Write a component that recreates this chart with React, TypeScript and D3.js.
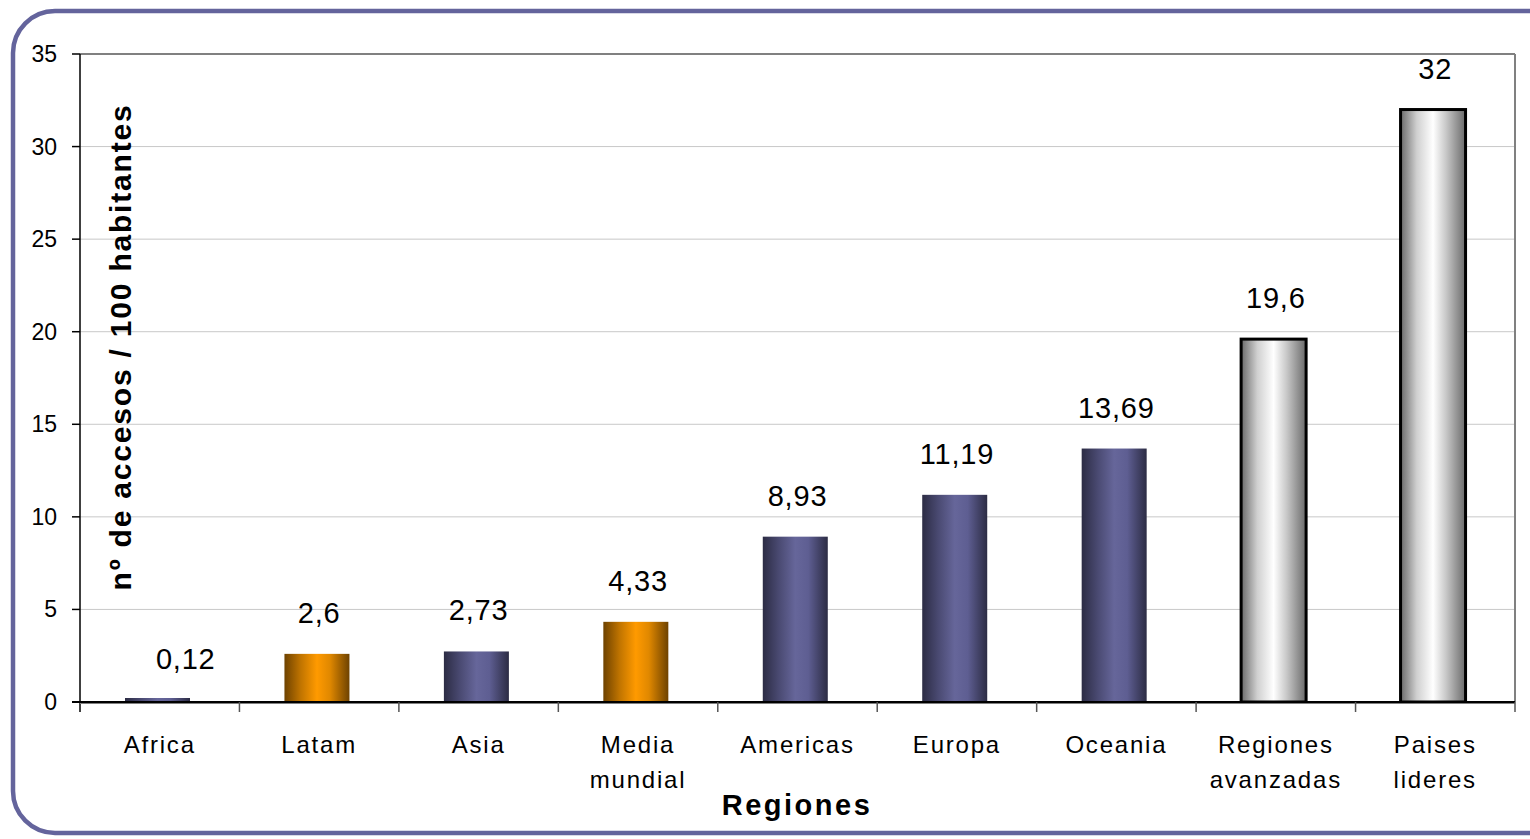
import React from "react";
import * as d3 from "d3";

const categories = [
  ["Africa"],
  ["Latam"],
  ["Asia"],
  ["Media", "mundial"],
  ["Americas"],
  ["Europa"],
  ["Oceania"],
  ["Regiones", "avanzadas"],
  ["Paises", "lideres"],
];
const values = [0.12, 2.6, 2.73, 4.33, 8.93, 11.19, 13.69, 19.6, 32];
const valueLabels = ["0,12", "2,6", "2,73", "4,33", "8,93", "11,19", "13,69", "19,6", "32"];
const kinds = ["blue", "orange", "blue", "orange", "blue", "blue", "blue", "white", "white"];
const yTicks = [0, 5, 10, 15, 20, 25, 30, 35];

const W = 1530;
const H = 839;
const left = 80;
const right = 1515;
const top = 54;
const bottom = 702;

export default function App() {
  const keys = categories.map((c, i) => String(i));
  const x = d3.scaleBand().domain(keys).range([left, right]).paddingInner(0).paddingOuter(0);
  const y = d3.scaleLinear().domain([0, 35]).range([bottom, top]);
  const bw = x.bandwidth();
  const barW = 65;
  const barOff = 45;
  const font = "'Liberation Sans', Arial, sans-serif";

  const gradStops: Record<string, string[]> = {
    blue: ["#2c2c44", "#4a4a72", "#66669a", "#5e5e92", "#2c2c44"],
    orange: ["#6e4200", "#c07400", "#ff9a00", "#e08800", "#6e4200"],
    white: ["#6a6a6a", "#d0d0d0", "#ffffff", "#c8c8c8", "#6a6a6a"],
  };
  const offsets = [0, 0.25, 0.5, 0.7, 1];

  return (
    <svg width={W} height={H} style={{ position: "absolute", left: 0, top: 0, background: "#fff" }}>
      <defs>
        {Object.keys(gradStops).map((k) => (
          <linearGradient key={k} id={"g-" + k} x1="0" x2="1" y1="0" y2="0">
            {gradStops[k].map((c, i) => (
              <stop key={i} offset={offsets[i]} stopColor={c} />
            ))}
          </linearGradient>
        ))}
      </defs>
      <rect x={0} y={0} width={W} height={H} fill="#fff" />
      <rect x={13} y={11} width={1560} height={822} rx={42} ry={42} fill="none" stroke="#64649c" strokeWidth={4.5} />

      {/* gridlines */}
      {yTicks.slice(1, -1).map((t) => (
        <line key={t} x1={left} x2={right} y1={y(t)} y2={y(t)} stroke="#c8c8c8" strokeWidth={1} />
      ))}
      {/* plot border top/right */}
      <line x1={left} x2={right} y1={top} y2={top} stroke="#808080" strokeWidth={2} />
      <line x1={right} x2={right} y1={top} y2={bottom} stroke="#808080" strokeWidth={2} />

      {/* bars */}
      {values.map((v, i) => {
        const x0 = (x(String(i)) as number) + barOff;
        const isWhite = kinds[i] === "white";
        const h = Math.max(bottom - y(v), 4);
        return (
          <rect
            key={i}
            x={x0}
            y={bottom - h}
            width={barW}
            height={h}
            fill={`url(#g-${kinds[i]})`}
            stroke={isWhite ? "#000" : "none"}
            strokeWidth={isWhite ? 3 : 0}
          />
        );
      })}

      {/* value labels */}
      {values.map((v, i) => (
        <text
          key={i}
          x={(x(String(i)) as number) + bw / 2 + (i === 0 ? 26 : 0)}
          y={y(v) - 31}
          textAnchor="middle"
          fontFamily={font}
          fontSize={29}
          letterSpacing={0.8}
          fill="#000"
        >
          {valueLabels[i]}
        </text>
      ))}

      {/* axes */}
      <line x1={left} x2={left} y1={top} y2={bottom + 10} stroke="#000" strokeWidth={1.5} />
      <line x1={left - 8} x2={right} y1={bottom} y2={bottom} stroke="#000" strokeWidth={2} />
      <line x1={left} x2={right} y1={bottom + 1.5} y2={bottom + 1.5} stroke="#808080" strokeWidth={1} />
      {yTicks.map((t) => (
        <g key={t}>
          <line x1={left - 8} x2={left} y1={y(t)} y2={y(t)} stroke="#000" strokeWidth={1.5} />
          <text x={57} y={y(t) + 8} textAnchor="end" fontFamily={font} fontSize={23} fill="#000">
            {t}
          </text>
        </g>
      ))}
      {keys.map((k) => (
        <line
          key={k}
          x1={(x(k) as number) + bw}
          x2={(x(k) as number) + bw}
          y1={bottom}
          y2={bottom + 10}
          stroke="#555"
          strokeWidth={1.5}
        />
      ))}

      {/* category labels */}
      {categories.map((lines, i) => (
        <text
          key={i}
          x={(x(String(i)) as number) + bw / 2}
          textAnchor="middle"
          fontFamily={font}
          fontSize={24}
          letterSpacing={1.8}
          fill="#000"
        >
          {lines.map((l, j) => (
            <tspan key={j} x={(x(String(i)) as number) + bw / 2} y={753 + j * 35}>
              {l}
            </tspan>
          ))}
        </text>
      ))}

      {/* axis titles */}
      <text x={797} y={815} textAnchor="middle" fontFamily={font} fontSize={29} fontWeight="bold" letterSpacing={2.5}>
        Regiones
      </text>
      <text
        transform={`translate(131,347) rotate(-90)`}
        textAnchor="middle"
        fontFamily={font}
        fontSize={30}
        fontWeight="bold"
        letterSpacing={1.8}
      >
        nº de accesos / 100 habitantes
      </text>
    </svg>
  );
}
